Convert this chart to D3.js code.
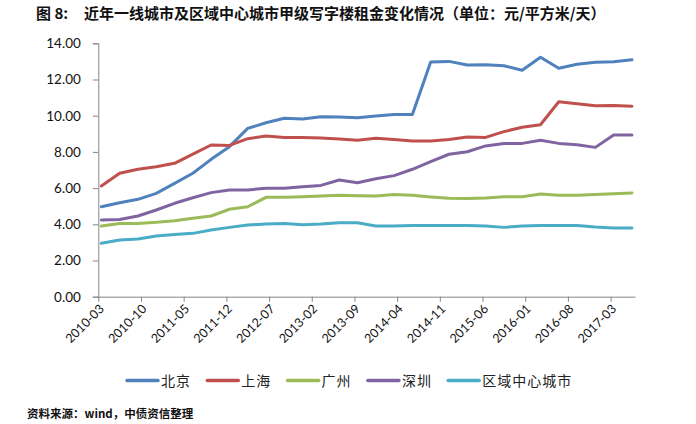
<!DOCTYPE html>
<html>
<head>
<meta charset="utf-8">
<script src="https://cdn.jsdelivr.net/npm/d3@7"></script>
<style>
  body { margin: 0; background: #fff; }
  svg { display: block; }
</style>
</head>
<body>
<div id="chart"></div>
<script>
// quarterly points, 2010-03 .. 2017-06
const quarters = ["2010-03","2010-06","2010-09","2010-12","2011-03","2011-06","2011-09","2011-12",
  "2012-03","2012-06","2012-09","2012-12","2013-03","2013-06","2013-09","2013-12",
  "2014-03","2014-06","2014-09","2014-12","2015-03","2015-06","2015-09","2015-12",
  "2016-03","2016-06","2016-09","2016-12","2017-03","2017-06"]

const beijing = [4.97,5.19,5.38,5.71,6.26,6.82,7.59,8.29,9.30,9.61,9.86,9.82,9.94,9.93,9.89,
  9.98,10.06,10.06,12.97,13.00,12.80,12.82,12.76,12.51,13.23,12.62,12.84,12.95,12.98,13.09]
const shanghai = [6.12,6.82,7.04,7.18,7.37,7.88,8.38,8.36,8.73,8.88,8.79,8.80,8.77,8.71,8.64,
  8.75,8.69,8.60,8.60,8.69,8.82,8.80,9.12,9.36,9.50,10.77,10.66,10.55,10.57,10.52]
const guangzhou = [3.91,4.05,4.05,4.11,4.20,4.33,4.46,4.83,4.97,5.49,5.49,5.52,5.56,5.60,5.58,
  5.56,5.64,5.60,5.51,5.44,5.42,5.45,5.52,5.52,5.67,5.60,5.60,5.64,5.69,5.73]
const shenzhen = [4.24,4.26,4.46,4.79,5.16,5.47,5.75,5.90,5.90,5.99,5.99,6.08,6.15,6.45,6.30,
  6.52,6.69,7.04,7.46,7.87,8.01,8.33,8.47,8.47,8.64,8.47,8.40,8.25,8.93,8.93]
const regional = [2.95,3.13,3.19,3.35,3.43,3.50,3.69,3.83,3.96,4.02,4.05,3.98,4.02,4.09,4.09,
  3.91,3.91,3.93,3.94,3.94,3.94,3.91,3.83,3.91,3.94,3.94,3.94,3.85,3.80,3.80]

const seriesNames = ["北京","上海","广州","深圳","区域中心城市"]
const colors = ["#4F81BD","#C0504D","#9BBB59","#8064A2","#4BACC6"]
const xTickLabels = ["2010-03","2010-10","2011-05","2011-12","2012-07","2013-02","2013-09",
  "2014-04","2014-11","2015-06","2016-01","2016-08","2017-03"]
const yTicks = [0,2,4,6,8,10,12,14]

const allSeries = [beijing, shanghai, guangzhou, shenzhen, regional]

// month index counted from 2010-03
function monthIdx(s){
    let [y, m] = s.split('-').map(Number)
    return (y - 2010) * 12 + (m - 3)
}

let W = 696, H = 424
let svg = d3.select('#chart').append('svg')
    .attr('width', W)
    .attr('height', H)
    .style('font-family', 'Lato, "Noto Sans CJK SC", sans-serif')

let scX = d3.scaleLinear().domain([0, 88]).range([98.3, 635])
let scY = d3.scaleLinear().domain([0, 14]).range([296.7, 43.3])

// title
svg.append('text')
    .attr('x', 36).attr('y', 19)
    .attr('font-family', '"Noto Sans CJK SC"')
    .attr('font-weight', 'bold')
    .attr('font-size', '15px')
    .attr('fill', '#111')
    .text('图 8:')
svg.append('text')
    .attr('x', 84).attr('y', 19)
    .attr('font-family', '"Noto Sans CJK SC"')
    .attr('font-weight', 'bold')
    .attr('font-size', '15px')
    .attr('fill', '#111')
    .text('近年一线城市及区域中心城市甲级写字楼租金变化情况（单位：元/平方米/天）')

// y axis
let yAxis = d3.axisLeft(scY).tickValues(yTicks).tickFormat(d3.format('.2f'))
    .tickSize(5.5).tickPadding(12)
let gy = svg.append('g')
    .attr('transform', `translate(${scX(0)},0)`)
    .call(yAxis)
gy.select('.domain').attr('stroke', '#868686')
gy.selectAll('.tick line').attr('stroke', '#868686')
gy.selectAll('text').attr('font-size', '13.5px').attr('fill', '#111')
    .attr('font-family', 'Lato')

// x axis
let xAxis = d3.axisBottom(scX)
    .tickValues(xTickLabels.map(monthIdx))
    .tickFormat((d, i) => xTickLabels[i])
    .tickSize(5).tickSizeOuter(0)
let gx = svg.append('g')
    .attr('transform', `translate(0,${scY(0)})`)
    .call(xAxis)
gx.select('.domain').attr('stroke', '#868686')
gx.selectAll('.tick line').attr('stroke', '#868686')
gx.selectAll('text')
    .attr('font-size', '12.5px')
    .attr('font-family', 'Lato')
    .attr('fill', '#111')
    .attr('text-anchor', 'end')
    .attr('dy', null)
    .attr('y', null)
    .attr('transform', 'translate(6,13) rotate(-45)')

// lines
let line = d3.line()
    .x((d, i) => scX(monthIdx(quarters[i]) + 0.5))
    .y(d => scY(d))

allSeries.forEach((vals, idx) => {
    svg.append('path')
        .datum(vals)
        .attr('d', line)
        .attr('fill', 'none')
        .attr('stroke', colors[idx])
        .attr('stroke-width', 3)
        .attr('stroke-linejoin', 'round')
        .attr('stroke-linecap', 'round')
})

// legend
let lg = svg.append('g')
seriesNames.forEach((name, i) => {
    let x0 = 127 + i * 80.3
    lg.append('line')
        .attr('x1', x0).attr('x2', x0 + 31)
        .attr('y1', 380.5).attr('y2', 380.5)
        .attr('stroke', colors[i])
        .attr('stroke-width', 3.5)
        .attr('stroke-linecap', 'round')
    lg.append('text')
        .attr('x', x0 + 34).attr('y', 385.5)
        .attr('font-family', '"Noto Sans CJK SC"')
        .attr('font-size', '14px')
        .attr('letter-spacing', '1px')
        .attr('fill', '#222')
        .text(name)
})

// source
svg.append('text')
    .attr('x', 27).attr('y', 418)
    .attr('font-family', '"Noto Sans CJK SC"')
    .attr('font-weight', 'bold')
    .attr('font-size', '11.5px')
    .attr('fill', '#111')
    .text('资料来源：wind，中债资信整理')
</script>
</body>
</html>
